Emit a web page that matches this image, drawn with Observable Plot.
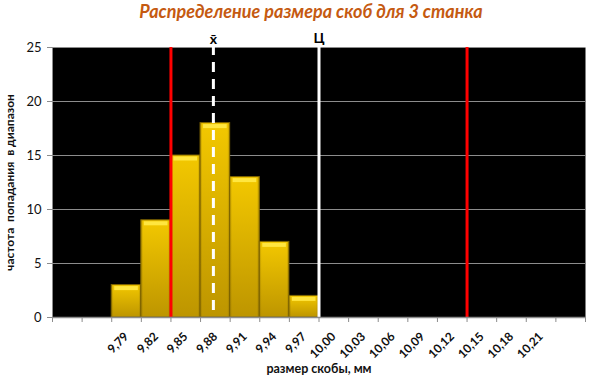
<!DOCTYPE html>
<html>
<head>
<meta charset="utf-8">
<script src="https://cdn.jsdelivr.net/npm/d3@7"></script>
<script src="https://cdn.jsdelivr.net/npm/@observablehq/plot@0.6"></script>
<style>
  html, body { margin: 0; padding: 0; background: #fff; }
  #wrap { position: relative; width: 598px; height: 384px; font-family: Lato, "Liberation Sans", sans-serif; }
  #title { position: absolute; left: 0; top: -1px; width: 622px; text-align: center; font-size: 18px; font-weight: bold; font-style: italic; color: #C55A11; line-height: 24px; }
  #chart { position: absolute; left: 0; top: 0; }
</style>
</head>
<body>
<div id="wrap">
  <div id="chart"></div>
  <div id="title">Распределение размера скоб для 3 станка</div>
</div>
<script>
// Histogram bins (bracket size, mm) and counts
const sizes  = [9.79, 9.82, 9.85, 9.88, 9.91, 9.94, 9.97, 10.00, 10.03, 10.06, 10.09, 10.12, 10.15, 10.18, 10.21];
const counts = [3, 9, 15, 18, 13, 7, 2, 0, 0, 0, 0, 0, 0, 0, 0];
const binWidth = 0.03;
const emptyBinsLeft = 2;
const emptyBinsRight = 1;
// Reference lines
const toleranceLimits = [9.835, 10.135];   // red lines
const toleranceCenter = [9.985];           // "Ц"
const sampleMean = [9.878];                // x̄
const yTicks = [0, 5, 10, 15, 20, 25];

const xMin = sizes[0] - binWidth * (emptyBinsLeft + 0.5);
const xMax = sizes[sizes.length - 1] + binWidth * (emptyBinsRight + 0.5);
const nSlots = sizes.length + emptyBinsLeft + emptyBinsRight;
const boundaries = d3.range(nSlots + 1).map(i => xMin + i * binWidth);
const bars = sizes.map((s, i) => ({s, c: counts[i]})).filter(d => d.c > 0);

const defsMark = () => {
  const g = document.createElementNS("http://www.w3.org/2000/svg", "g");
  g.innerHTML = `<defs>
    <linearGradient id="barV" x1="0" y1="0" x2="0" y2="1">
      <stop offset="0" stop-color="#F3C800"/>
      <stop offset="1" stop-color="#BD9500"/>
    </linearGradient>
    <linearGradient id="barH" x1="0" y1="0" x2="1" y2="0">
      <stop offset="0" stop-color="#7a5f00" stop-opacity="0.45"/>
      <stop offset="0.08" stop-color="#7a5f00" stop-opacity="0.0"/>
      <stop offset="0.92" stop-color="#7a5f00" stop-opacity="0.0"/>
      <stop offset="1" stop-color="#7a5f00" stop-opacity="0.45"/>
    </linearGradient>
  </defs>`;
  return g;
};

const fmt = d => d.toFixed(2).replace(".", ",");

const chart = Plot.plot({
  width: 598,
  height: 384,
  marginTop: 47,
  marginBottom: 67,
  marginLeft: 52,
  marginRight: 13,
  style: {fontFamily: "Lato, 'Liberation Sans', sans-serif", color: "#111", background: "transparent"},
  x: {type: "linear", domain: [xMin, xMax], axis: null},
  y: {domain: [0, 25], axis: null},
  marks: [
    defsMark,
    Plot.frame({fill: "black", stroke: null}),
    Plot.gridY(yTicks.filter(d => d > 0), {stroke: "#8c8c8c", strokeOpacity: 1, strokeWidth: 1}),
    Plot.ruleX([xMin], {stroke: "#8c8c8c"}),
    Plot.rect(bars, {x1: d => d.s - binWidth / 2, x2: d => d.s + binWidth / 2, y1: 0, y2: "c", fill: "url(#barV)", stroke: "#7d6300", strokeWidth: 1}),
    Plot.rect(bars, {x1: d => d.s - binWidth / 2, x2: d => d.s + binWidth / 2, y1: 0, y2: "c", fill: "url(#barH)"}),
    Plot.ruleY(bars, {y: "c", x1: d => d.s - binWidth / 2, x2: d => d.s + binWidth / 2, stroke: "#FFE640", strokeWidth: 4, dy: 3, insetLeft: 3, insetRight: 3}),
    Plot.ruleX(toleranceLimits, {stroke: "#FF0000", strokeWidth: 3}),
    Plot.ruleX(toleranceCenter, {stroke: "#FFFFFF", strokeWidth: 3, insetTop: -3}),
    Plot.ruleX(sampleMean, {stroke: "#FFFFFF", strokeWidth: 3, strokeDasharray: "10,7", insetTop: -2}),
    Plot.ruleY([0], {stroke: "#8c8c8c", strokeWidth: 1.5}),
    // ticks
    Plot.axisX(boundaries, {tickSize: 5, tickFormat: () => "", stroke: "#8c8c8c"}),
    Plot.axisY(yTicks, {tickSize: 5, tickPadding: 6, fontSize: 13, stroke: "#8c8c8c", label: null}),
    Plot.axisX(sizes, {tickSize: 0, tickRotate: -45, tickPadding: 17, dx: 0, fontSize: 12, fontWeight: "bold", tickFormat: fmt, label: null}),
    // labels
    Plot.text(sampleMean, {x: d => d, frameAnchor: "top", dy: -13, text: () => "x\u0304", fontSize: 14, fontWeight: "bold", fill: "#000"}),
    Plot.text(toleranceCenter, {x: d => d, frameAnchor: "top", dy: -14, text: () => "Ц", fontSize: 14, fontWeight: "bold", fill: "#000"}),
    Plot.text(["размер скобы, мм"], {frameAnchor: "bottom", dy: 55, fontSize: 12.5, fontWeight: "bold", fill: "#111"}),
    Plot.text(["частота  попадания  в диапазон"], {frameAnchor: "left", textAnchor: "middle", rotate: -90, dx: -42, fontSize: 12, fontWeight: "bold", fill: "#111"})
  ]
});
document.getElementById("chart").appendChild(chart);
</script>
</body>
</html>
